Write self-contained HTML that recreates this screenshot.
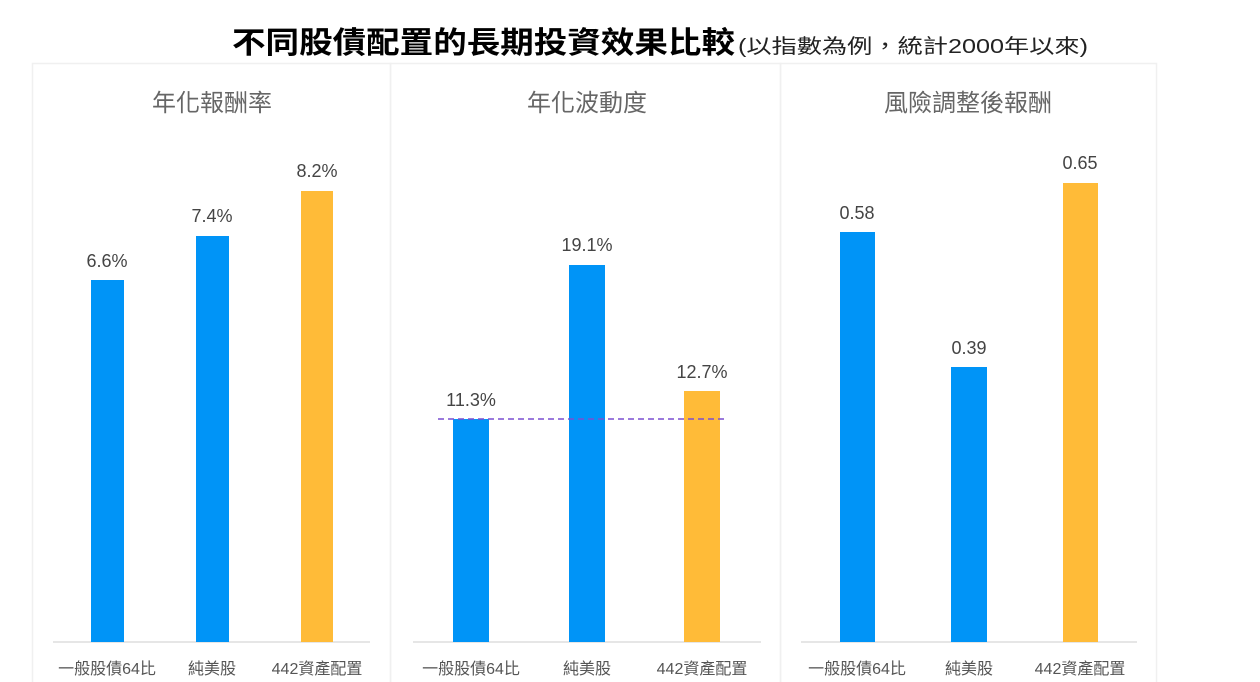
<!DOCTYPE html>
<html><head><meta charset="utf-8"><style>
html,body{margin:0;padding:0;background:#fff;}
svg{display:block;font-family:"Liberation Sans","Noto Sans CJK TC",sans-serif;}
</style></head><body>
<svg width="1260" height="682" viewBox="0 0 1260 682" xmlns="http://www.w3.org/2000/svg">
<rect width="1260" height="682" fill="#fff"/>
<text x="232" y="53" font-size="30" font-weight="bold" fill="#000" textLength="503" lengthAdjust="spacingAndGlyphs">不同股債配置的長期投資效果比較</text>
<text x="738" y="53" font-size="20" fill="#222" textLength="350" lengthAdjust="spacingAndGlyphs">(以指數為例，統計2000年以來)</text>
<g fill="none" stroke="#f0f0f0" stroke-width="1.5">
<rect x="32.5" y="63.5" width="358" height="630"/>
<rect x="390.5" y="63.5" width="390" height="630"/>
<rect x="780.5" y="63.5" width="376" height="630"/>
</g>
<g font-size="24" fill="#666" text-anchor="middle">
<text x="212" y="111">年化報酬率</text>
<text x="587" y="111">年化波動度</text>
<text x="968" y="111">風險調整後報酬</text>
</g>
<g stroke="#ddd" stroke-width="1.5">
<line x1="53" y1="642" x2="370" y2="642"/>
<line x1="413" y1="642" x2="761" y2="642"/>
<line x1="801" y1="642" x2="1137" y2="642"/>
</g>
<g fill="#0094f7">
<rect x="91" y="280" width="33" height="362"/>
<rect x="196" y="236" width="33" height="406"/>
<rect x="453" y="419" width="36" height="223"/>
<rect x="569" y="265" width="36" height="377"/>
<rect x="840" y="232" width="35" height="410"/>
<rect x="951" y="367" width="36" height="275"/>
</g>
<g fill="#ffbb38">
<rect x="301" y="191" width="32" height="451"/>
<rect x="684" y="391" width="36" height="251"/>
<rect x="1063" y="183" width="35" height="459"/>
</g>
<line x1="438" y1="419" x2="728" y2="419" stroke="#7a4fd0" stroke-width="1.5" stroke-dasharray="6,4"/>
<g font-size="18" fill="#444" text-anchor="middle">
<text x="107" y="267">6.6%</text>
<text x="212" y="222">7.4%</text>
<text x="317" y="177">8.2%</text>
<text x="471" y="406">11.3%</text>
<text x="587" y="251">19.1%</text>
<text x="702" y="378">12.7%</text>
<text x="857" y="219">0.58</text>
<text x="969" y="354">0.39</text>
<text x="1080" y="169">0.65</text>
</g>
<g font-size="16" fill="#555" text-anchor="middle">
<text x="107" y="674">一般股債64比</text>
<text x="212" y="674">純美股</text>
<text x="317" y="674">442資產配置</text>
<text x="471" y="674">一般股債64比</text>
<text x="587" y="674">純美股</text>
<text x="702" y="674">442資產配置</text>
<text x="857" y="674">一般股債64比</text>
<text x="969" y="674">純美股</text>
<text x="1080" y="674">442資產配置</text>
</g>
</svg>
</body></html>
